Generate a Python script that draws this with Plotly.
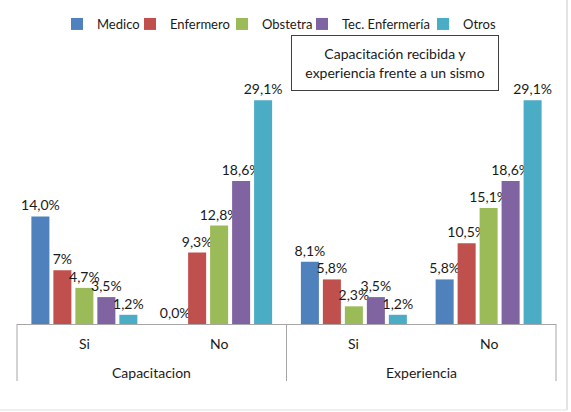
import plotly.graph_objects as go

groups = ["Capacitacion", "Capacitacion", "Experiencia", "Experiencia"]
answers = ["Si", "No", "Si", "No"]
series = ["Medico", "Enfermero", "Obstetra", "Tec. Enfermería", "Otros"]
colors = ["#4F81BD", "#C0504D", "#9BBB59", "#8064A2", "#4BACC6"]

medico = [14.0, 0.0, 8.1, 5.8]
enfermero = [7.0, 9.3, 5.8, 10.5]
obstetra = [4.7, 12.8, 2.3, 15.1]
tec_enf = [3.5, 18.6, 3.5, 18.6]
otros = [1.2, 29.1, 1.2, 29.1]

medico_lbl = ["14,0%", "0,0%", "8,1%", "5,8%"]
enfermero_lbl = ["7%", "9,3%", "5,8%", "10,5%"]
obstetra_lbl = ["4,7%", "12,8%", "2,3%", "15,1%"]
tec_enf_lbl = ["3,5%", "18,6%", "3,5%", "18,6%"]
otros_lbl = ["1,2%", "29,1%", "1,2%", "29,1%"]

values = [medico, enfermero, obstetra, tec_enf, otros]
labels = [medico_lbl, enfermero_lbl, obstetra_lbl, tec_enf_lbl, otros_lbl]

FONT = "Lato"
TXT = "#1a1a1a"
W, H = 571, 412
ml, mr, mt, mb = 17, 15, 55, 88
pw = W - ml - mr
ph = H - mt - mb

# legend text start positions (px) for each entry
leg_text_x = [97, 170, 262, 342, 463]

fig = go.Figure()
legend_layout = {}
for i, (name, col, v, lb) in enumerate(zip(series, colors, values, labels)):
    lname = "legend" if i == 0 else f"legend{i + 1}"
    fig.add_trace(go.Bar(
        x=[groups, answers], y=v, name=name, marker_color=col,
        marker_line_width=0,
        text=lb, textposition="outside", constraintext="none",
        textfont=dict(family=FONT, size=14, color=TXT),
        cliponaxis=False, legend=lname, showlegend=True,
    ))
    legend_layout[lname] = dict(
        orientation="h", x=(leg_text_x[i] - 40) / W, xanchor="left",
        xref="container", y=1 - 9 / H, yanchor="top", yref="container",
        font=dict(family=FONT, size=13, color=TXT),
        bgcolor="rgba(0,0,0,0)", itemwidth=30,
    )

# axis category labels and dividers
n = len(answers)
annotations = []
for j, a in enumerate(answers):
    annotations.append(dict(text=a, xref="paper", yref="paper",
                            x=(j + 0.5) / n, y=(324 - 343) / ph,
                            xanchor="center", yanchor="middle", showarrow=False,
                            font=dict(family=FONT, size=14, color=TXT)))
outer = []
for g in groups:
    if g not in outer:
        outer.append(g)
for k, g in enumerate(outer):
    annotations.append(dict(text=g, xref="paper", yref="paper",
                            x=(k + 0.5) / len(outer), y=(324 - 372) / ph,
                            xanchor="center", yanchor="middle", showarrow=False,
                            font=dict(family=FONT, size=14, color=TXT)))
annotations.append(dict(
    text="Capacitación recibida y<br>experiencia frente a un sismo",
    xref="paper", yref="paper",
    x=(395 - ml) / pw, y=(324 - 63) / ph,
    xanchor="center", yanchor="middle", showarrow=False,
    width=200, height=48, align="center",
    font=dict(family=FONT, size=14, color=TXT),
    bordercolor="#404040", borderwidth=1, borderpad=3,
    bgcolor="white",
))

shapes = []
for k in range(len(outer) + 1):
    xv = k / len(outer)
    shapes.append(dict(type="line", xref="paper", yref="paper",
                       x0=xv, x1=xv, y0=0, y1=(324 - 381) / ph,
                       line=dict(color="#A6A6A6", width=1)))
shapes += [
    dict(type="line", xref="paper", yref="paper",
         x0=(567 - ml) / pw, x1=(567 - ml) / pw,
         y0=(324 - 410) / ph, y1=324 / ph,
         line=dict(color="#C8C8C8", width=1)),
    dict(type="line", xref="paper", yref="paper",
         x0=-ml / pw, x1=(567 - ml) / pw,
         y0=(324 - 410) / ph, y1=(324 - 410) / ph,
         line=dict(color="#E0E0E0", width=1)),
]

fig.update_layout(
    width=W, height=H,
    margin=dict(l=ml, r=mr, t=mt, b=mb),
    paper_bgcolor="white", plot_bgcolor="white",
    barmode="group", bargap=0.184, bargroupgap=0.18,
    font=dict(family=FONT, size=13, color=TXT),
    showlegend=True,
    xaxis=dict(type="multicategory", showline=True, linecolor="#A6A6A6",
               linewidth=1, showticklabels=False, ticks="",
               showdividers=False, showgrid=False),
    yaxis=dict(range=[0, 35], visible=False, showgrid=False),
    annotations=annotations,
    shapes=shapes,
    **legend_layout,
)

fig.write_html("out.html")
